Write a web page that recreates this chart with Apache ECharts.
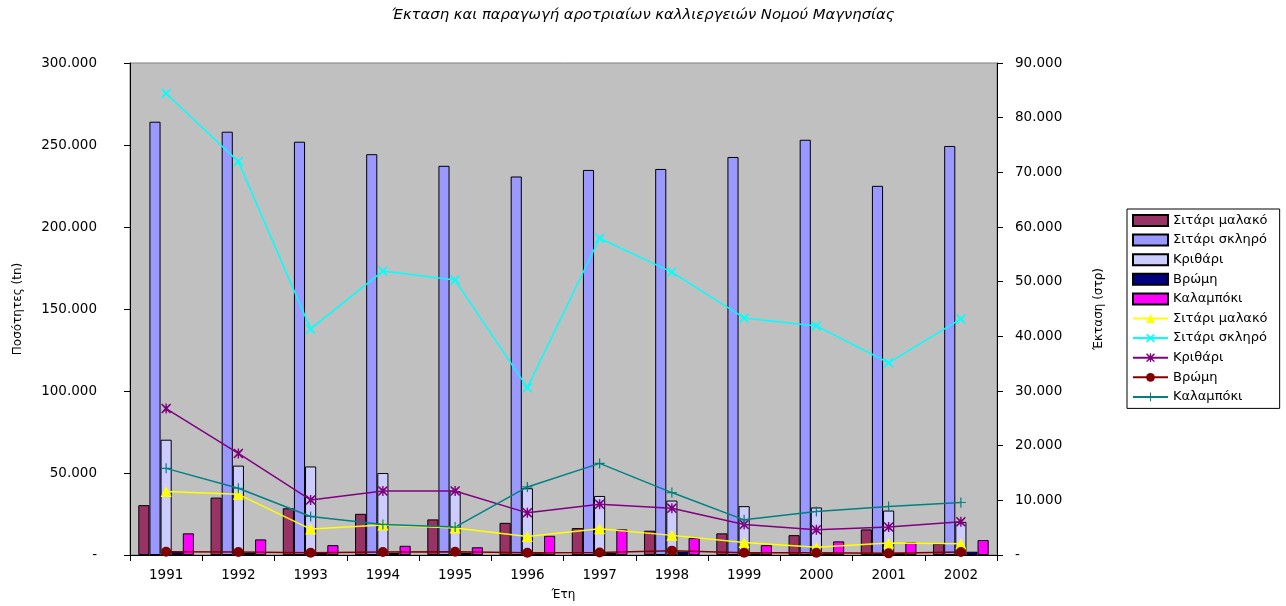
<!DOCTYPE html>
<html>
<head>
<meta charset="utf-8">
<script src="https://cdn.jsdelivr.net/npm/echarts@6/dist/echarts.min.js"></script>
<style>
html,body{margin:0;padding:0;background:#fff;}
#chart{width:1286px;height:606px;}
</style>
</head>
<body>
<div id="chart"></div>
<script>
// ---- data ----
const years = ['1991','1992','1993','1994','1995','1996','1997','1998','1999','2000','2001','2002'];
// production (tn) - bars, left axis
const prodSoftWheat = [30400, 35000, 28500, 25100, 21700, 19600, 16400, 14800, 13200, 12100, 15600, 6900];
const prodDurumWheat = [264200, 258100, 252000, 244400, 237300, 230800, 234800, 235400, 242700, 253200, 225100, 249400];
const prodBarley = [70300, 54500, 54000, 50000, 38900, 40700, 36000, 33200, 29800, 29000, 27100, 20200];
const prodOats = [1800, 1500, 1500, 1200, 1300, 1000, 1200, 2000, 1000, 1000, 1300, 2000];
const prodMaize = [13200, 9500, 6000, 5600, 4700, 11700, 15600, 10300, 6000, 8300, 7700, 9100];
// area (stremmata) - lines, right axis
const areaSoftWheat = [11600, 11100, 4740, 5470, 4920, 3400, 4800, 3590, 2300, 1400, 2190, 2060];
const areaDurumWheat = [84420, 71960, 41360, 51930, 50290, 30610, 57940, 51750, 43360, 41900, 35160, 43180];
const areaBarley = [26780, 18580, 10080, 11720, 11720, 7710, 9290, 8560, 5590, 4610, 5100, 6070];
const areaOats = [600, 550, 400, 550, 600, 400, 450, 800, 400, 400, 300, 550];
const areaMaize = [15850, 12210, 7050, 5590, 5100, 12450, 16760, 11420, 6430, 7960, 8870, 9600];

const names = ['Σιτάρι μαλακό','Σιτάρι σκληρό','Κριθάρι','Βρώμη','Καλαμπόκι'];

const FONT = 'DejaVu Sans';
function fmt(v){ return v === 0 ? '-' : String(v).replace(/\B(?=(\d{3})+(?!\d))/g, '.'); }

const SYM_X = 'path://M1,0 L5,3.6 L9,0 L10,1 L6.4,5 L10,9 L9,10 L5,6.4 L1,10 L0,9 L3.6,5 L0,1 Z';
const SYM_PLUS = 'path://M4.4,0 H5.6 V4.4 H10 V5.6 H5.6 V10 H4.4 V5.6 H0 V4.4 H4.4 Z';
const SYM_STAR = 'path://M1,0 L5,3.6 L9,0 L10,1 L6.4,5 L10,9 L9,10 L5,6.4 L1,10 L0,9 L3.6,5 L0,1 Z M4.3,0 H5.7 V10 H4.3 Z';

function bar(name, data, color){
  return {name, type:'bar', yAxisIndex:0, data,
    barGap:'0%', barCategoryGap:'23%',
    itemStyle:{color, borderColor:'#000', borderWidth:1}};
}
function line(name, data, color, symbol, size){
  return {name, type:'line', yAxisIndex:1, data, symbol, symbolSize:size,
    lineStyle:{color, width:1.5}, itemStyle:{color, borderWidth:0}, z:5};
}

const chart = echarts.init(document.getElementById('chart'), null, {renderer:'canvas'});
chart.setOption({
  animation:false,
  textStyle:{fontFamily:FONT, color:'#000'},
  title:{text:'Έκταση και παραγωγή αροτριαίων καλλιεργειών Νομού Μαγνησίας', left:'center', top:3,
    padding:[5,15,5,5],
    textStyle:{fontFamily:FONT, fontSize:14.8, fontStyle:'italic', fontWeight:'normal', color:'#000'}},
  legend:{orient:'vertical', left:1127, top:209, itemWidth:35, itemHeight:11, itemGap:6.6,
    backgroundColor:'#fff', borderColor:'#000', borderWidth:1, padding:[5,8,5,5],
    textStyle:{fontFamily:FONT, fontSize:13, color:'#000'},
    data:[
      {name:names[0]+' ', icon:'rect'},{name:names[1]+' ', icon:'rect'},{name:names[2]+' ', icon:'rect'},{name:names[3]+' ', icon:'rect'},{name:names[4]+' ', icon:'rect'},
      names[0],names[1],names[2],names[3],names[4]
    ]},
  grid:{left:130, right:289, top:63, bottom:49, show:true, backgroundColor:'#c0c0c0', borderColor:'#808080', borderWidth:1},
  xAxis:{type:'category', data:years, boundaryGap:true,
    name:'Έτη', nameLocation:'middle', nameGap:34, nameTextStyle:{fontFamily:FONT, fontSize:12, color:'#000'},
    axisLine:{lineStyle:{color:'#000', width:1}},
    axisTick:{show:true, length:6, lineStyle:{color:'#000'}},
    axisLabel:{fontFamily:FONT, fontSize:13.5, color:'#000', margin:13}},
  yAxis:[
    {type:'value', min:0, max:300000, interval:50000, position:'left',
     name:'Ποσότητες (tn)', nameLocation:'middle', nameGap:106, nameRotate:90,
     nameTextStyle:{fontFamily:FONT, fontSize:12, color:'#000'},
     axisLine:{show:true, lineStyle:{color:'#000'}}, axisTick:{show:true, length:6, lineStyle:{color:'#000'}},
     splitLine:{show:false},
     axisLabel:{fontFamily:FONT, fontSize:13.5, color:'#000', margin:33, formatter:fmt}},
    {type:'value', min:0, max:90000, interval:10000, position:'right',
     name:'Έκταση (στρ)', nameLocation:'middle', nameGap:96, nameRotate:90,
     nameTextStyle:{fontFamily:FONT, fontSize:12, color:'#000'},
     axisLine:{show:true, lineStyle:{color:'#000'}}, axisTick:{show:true, length:6, lineStyle:{color:'#000'}},
     splitLine:{show:false},
     axisLabel:{fontFamily:FONT, fontSize:13.5, color:'#000', margin:18, formatter:fmt}}
  ],
  series:[
    bar(names[0]+' ', prodSoftWheat, '#993366'),
    bar(names[1]+' ', prodDurumWheat, '#9999ff'),
    bar(names[2]+' ', prodBarley, '#ccccff'),
    bar(names[3]+' ', prodOats, '#000080'),
    bar(names[4]+' ', prodMaize, '#ff00ff'),
    line(names[0], areaSoftWheat, '#ffff00', 'triangle', 11),
    line(names[1], areaDurumWheat, '#00ffff', SYM_X, 10),
    line(names[2], areaBarley, '#800080', SYM_STAR, 10),
    line(names[3], areaOats, '#800000', 'circle', 10),
    line(names[4], areaMaize, '#008080', SYM_PLUS, 10)
  ]
});
</script>
</body>
</html>
